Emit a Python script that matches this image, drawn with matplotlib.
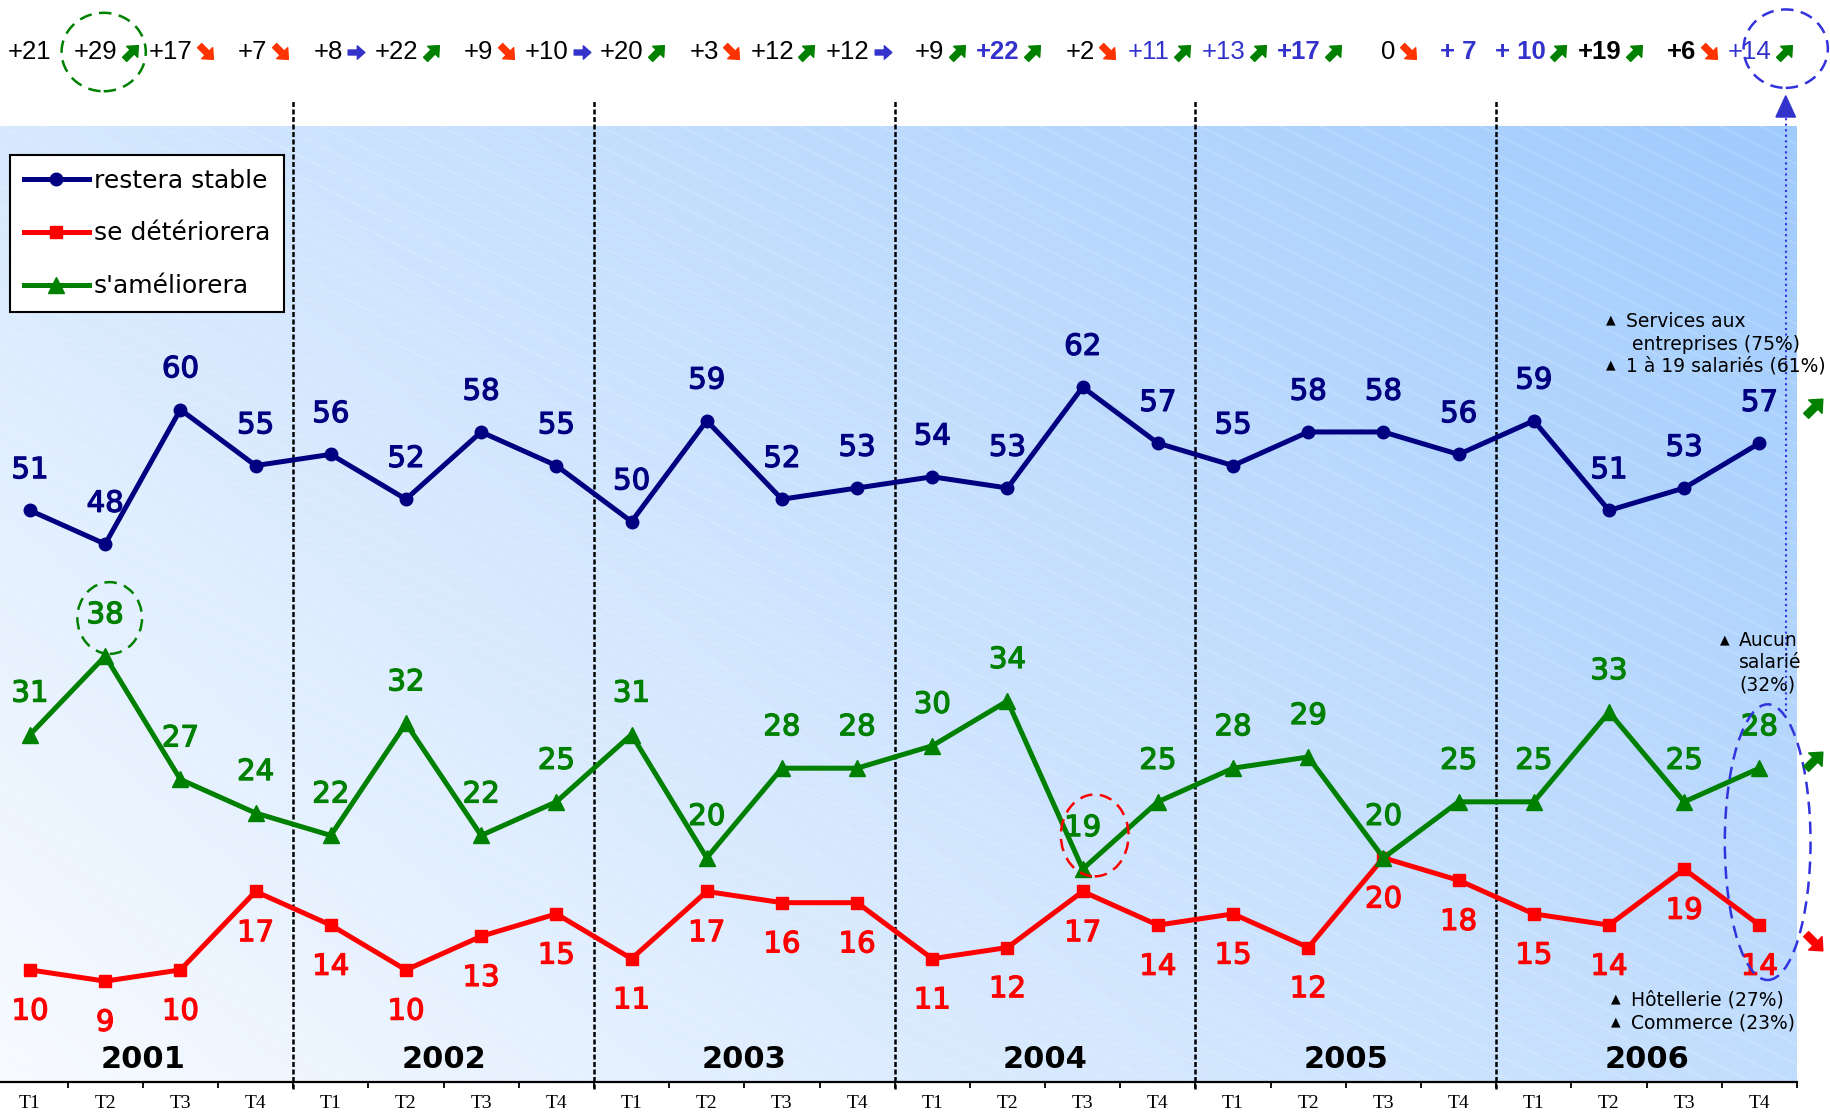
import numpy as np
import matplotlib
matplotlib.use("Agg")
from matplotlib import pyplot as plt
from matplotlib.patches import Ellipse, Polygon
from matplotlib.path import Path
from matplotlib.markers import MarkerStyle
from matplotlib.transforms import Affine2D
from matplotlib import patheffects as pe

# donnees
trimestres = ["T1", "T2", "T3", "T4"] * 6
annees = ["2001", "2002", "2003", "2004", "2005", "2006"]
stable = [51, 48, 60, 55, 56, 52, 58, 55, 50, 59, 52, 53,
          54, 53, 62, 57, 55, 58, 58, 56, 59, 51, 53, 57]
deteriore = [10, 9, 10, 17, 14, 10, 13, 15, 11, 17, 16, 16,
             11, 12, 17, 14, 15, 12, 20, 18, 15, 14, 19, 14]
ameliore = [31, 38, 27, 24, 22, 32, 22, 25, 31, 20, 28, 28,
            30, 34, 19, 25, 28, 29, 20, 25, 25, 33, 25, 28]
soldes = ["+21", "+29", "+17", "+7", "+8", "+22", "+9", "+10", "+20", "+3", "+12", "+12",
          "+9", "+22", "+2", "+11", "+13", "+17", "0", "+ 7", "+ 10", "+19", "+6", "+14"]
fleches = ["", "h", "b", "b", "d", "h", "b", "d", "h", "b", "h", "d",
           "h", "h", "b", "h", "h", "h", "b", "", "h", "h", "b", "h"]
coul_solde = ["k"] * 13 + ["b", "k", "b", "b", "b", "k", "b", "b", "k", "k", "b"]
gras_solde = [False] * 13 + [True, False, False, False, True, False, True, True, True, True, False]

NAVY = "#000080"
ROUGE = "#ff0000"
VERT = "#008000"
BLEU = "#3333cc"
coul_fleche = {"h": VERT, "b": "#ff3300", "d": BLEU}
angle_fleche = {"h": 45, "b": -45, "d": 0}
coul_txt = {"k": "black", "b": BLEU}

# forme de fleche epaisse
verts = [(-1, -0.3), (0.1, -0.3), (0.1, -0.8), (1, 0), (0.1, 0.8), (0.1, 0.3), (-1, 0.3), (-1, -0.3)]
codes = [Path.MOVETO] + [Path.LINETO] * 6 + [Path.CLOSEPOLY]
chemin = Path(verts, codes)

def marqueur(g):
    return MarkerStyle(chemin, transform=Affine2D().rotate_deg(angle_fleche[g]))

W, H = 1830, 1114
fig = plt.figure(figsize=(W / 100, H / 100), dpi=100)
ax = fig.add_axes([-7.6 / W, 1 - 1082 / H, (1797 + 7.6) / W, (1082 - 126) / H])

x = np.arange(len(trimestres))

# fond degrade
gx, gy = np.meshgrid(np.linspace(0, 1, 400), np.linspace(0, 1, 200))
t = 0.62 * gx + 0.38 * gy
c0 = np.array([248, 251, 255]) / 255
c1 = np.array([160, 203, 253]) / 255
img = c0 + t[..., None] * (c1 - c0)
ax.imshow(img, extent=(0, 1, 0, 1), transform=ax.transAxes, origin="lower",
          aspect="auto", zorder=0, interpolation="bilinear")
# fines hachures blanches
Wa, Ha = 1805, 956
for c in np.arange(0, Ha + 0.5 * Wa, 20):
    ax.plot([0, 1], [c / Ha, (c - 0.5 * Wa) / Ha], color="white", lw=0.7,
            alpha=0.25, transform=ax.transAxes, zorder=0.5)

# courbes
ax.plot(x, stable, color=NAVY, lw=3.6, marker="o", ms=9, label="restera stable", zorder=3)
ax.plot(x, deteriore, color=ROUGE, lw=3.6, marker="s", ms=8, label="se détériorera", zorder=3)
ax.plot(x, ameliore, color=VERT, lw=3.6, marker="^", ms=11, label="s'améliorera", zorder=3)

effet = lambda col: [pe.withStroke(linewidth=0.9, foreground=col)]
for i in x:
    ax.annotate(str(stable[i]), (i, stable[i]), xytext=(0, 29), textcoords="offset points",
                ha="center", va="center", fontsize=21, color=NAVY, path_effects=effet(NAVY), zorder=4)
    ax.annotate(str(ameliore[i]), (i, ameliore[i]), xytext=(0, 29.5), textcoords="offset points",
                ha="center", va="center", fontsize=21, color=VERT, path_effects=effet(VERT), zorder=4)
    ax.annotate(str(deteriore[i]), (i, deteriore[i]), xytext=(0, -30), textcoords="offset points",
                ha="center", va="center", fontsize=21, color=ROUGE, path_effects=effet(ROUGE), zorder=4)

# separations des annees
for k in range(1, 6):
    ax.plot([4 * k - 0.5] * 2, [-0.6, 87.7], color="black", lw=1.8,
            ls=(0, (2, 1)), clip_on=False, zorder=2)
for k, a in enumerate(annees):
    ax.text(4 * k + 1.5, 2.0, a, ha="center", va="center", fontsize=22,
            fontweight="bold", color="black", zorder=4)

# ligne des soldes
for i in x:
    poids = "bold" if gras_solde[i] else "normal"
    if fleches[i]:
        ax.text(i + 0.16, 91.9, soldes[i], ha="right", va="center", fontsize=18.5,
                family="Liberation Sans", color=coul_txt[coul_solde[i]],
                fontweight=poids, clip_on=False)
        g = fleches[i]
        ax.plot(i + 0.34, 91.9, marker=marqueur(g), ms=14 if g != "d" else 12,
                color=coul_fleche[g], mec=coul_fleche[g], ls="none", clip_on=False)
    else:
        ax.text(i, 91.9, soldes[i], ha="center", va="center", fontsize=18.5,
                family="Liberation Sans", color=coul_txt[coul_solde[i]],
                fontweight=poids, clip_on=False)

# cercles en pointilles
cercles = [((0.98, 91.9), 1.12, 7.0, VERT), ((1.06, 41.4), 0.86, 6.4, VERT),
           ((14.16, 22.0), 0.9, 7.3, ROUGE), ((23.35, 92.2), 1.12, 7.0, "#3333dd"),
           ((23.11, 21.4), 1.14, 24.6, "#3333dd")]
for centre, w, h, col in cercles:
    ax.add_patch(Ellipse(centre, w, h, fill=False, ec=col, lw=1.8, ls=(0, (5, 3)),
                         clip_on=False, zorder=5))

# fleche bleue verticale
ax.plot([23.35, 23.35], [33.1, 86.1], color="#3333dd", lw=1.5, ls=":", clip_on=False, zorder=5)
ax.add_patch(Polygon([[23.35 - 0.13, 86.1], [23.35 + 0.13, 86.1], [23.35, 88.0]],
                     closed=True, fc=BLEU, ec=BLEU, clip_on=False, zorder=5))

# fleches a droite
for yv, g, col in [(60.2, "h", VERT), (28.7, "h", VERT), (12.5, "b", ROUGE)]:
    ax.plot(23.72, yv, marker=marqueur(g), ms=17, color=col, mec=col,
            ls="none", clip_on=False, zorder=5)

# textes sectoriels
def ftxt(px, py, s, size=13.5):
    fig.text(px / W, 1 - py / H, s, ha="left", va="center", fontsize=size, color="black")

def tri(px, py):
    fig.text(px / W, 1 - py / H, "\u25b2", ha="left", va="center", fontsize=9, color="black")

tri(1606, 320); ftxt(1626, 321, "Services aux")
ftxt(1632, 344, "entreprises (75%)")
tri(1606, 365); ftxt(1626, 366, "1 à 19 salariés (61%)")
tri(1720, 640); ftxt(1739, 641, "Aucun")
ftxt(1739, 663, "salarié")
ftxt(1739, 685, "(32%)")
tri(1611, 999); ftxt(1631, 1000, "Hôtellerie (27%)")
tri(1611, 1022); ftxt(1631, 1023, "Commerce (23%)")

# axes
ax.set_xlim(-0.5, 23.5)
ax.set_ylim(0, 85.3)
ax.set_xticks(x)
ax.set_xticklabels(trimestres, fontsize=14, family="Liberation Serif")
ax.set_xticks(np.arange(-0.5, 24, 1), minor=True)
ax.tick_params(axis="x", which="major", length=0, pad=9)
ax.tick_params(axis="x", which="minor", length=4, width=1.3, direction="out")
ax.set_yticks([])
for s in ["top", "right", "left"]:
    ax.spines[s].set_visible(False)
ax.spines["bottom"].set_linewidth(1.6)

leg = ax.legend(loc="upper left", bbox_to_anchor=(10 / W, 1 - 155 / H),
                bbox_transform=fig.transFigure, fontsize=18, handlelength=2.6,
                handletextpad=0.2, labelspacing=1.15, borderpad=0.55, borderaxespad=0,
                fancybox=False, framealpha=1, edgecolor="black")
leg.get_frame().set_linewidth(1.5)
leg.set_zorder(6)

fig.savefig("out.png", dpi=100)
